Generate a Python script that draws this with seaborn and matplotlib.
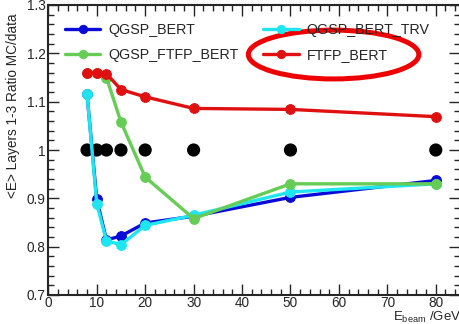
import matplotlib
matplotlib.use("Agg")
import matplotlib.pyplot as plt
from matplotlib.patches import Ellipse
from matplotlib.ticker import MultipleLocator
import seaborn as sns

# Beam energies (GeV) and MC/data ratios of <E> in layers 1-3
energies = [8, 10, 12, 15, 20, 30, 50, 80]
qgsp_bert = [1.115, 0.898, 0.814, 0.822, 0.849, 0.863, 0.902, 0.937]
qgsp_bert_trv = [1.115, 0.889, 0.812, 0.804, 0.844, 0.865, 0.913, 0.930]
qgsp_ftfp_bert = [1.160, 1.160, 1.150, 1.058, 0.944, 0.858, 0.930, 0.930]
ftfp_bert = [1.160, 1.160, 1.158, 1.125, 1.110, 1.086, 1.084, 1.069]
data_ref = [1.0, 1.0, 1.0, 1.0, 1.0, 1.0, 1.0, 1.0]

series_names = ["QGSP_BERT", "QGSP_BERT_TRV", "QGSP_FTFP_BERT", "FTFP_BERT"]
series_values = [qgsp_bert, qgsp_bert_trv, qgsp_ftfp_bert, ftfp_bert]
series_colors = ["#0a0ad8", "#1ee6f0", "#66cc55", "#e01010"]

sns.set_style("ticks")
plt.rcParams["font.family"] = ["Liberation Sans", "DejaVu Sans"]
plt.rcParams["mathtext.fontset"] = "custom"
plt.rcParams["mathtext.rm"] = "Liberation Sans"

fig = plt.figure(figsize=(4.6, 3.24), dpi=100)
ax = fig.add_axes([48.3 / 460, 1 - 295 / 324, (460 - 48.3) / 460, 290 / 324])

# data reference points
sns.scatterplot(x=energies, y=data_ref, color="black", s=90, edgecolor="none",
                zorder=2, ax=ax, legend=False)

for name, vals, col in zip(series_names, series_values, series_colors):
    sns.lineplot(x=energies, y=vals, color=col, marker="o", markersize=7,
                 markeredgecolor=col, linewidth=2.4, ax=ax, label=name, zorder=3)

h, l = ax.get_legend_handles_labels()
hmap = dict(zip(l, h))
order = ["QGSP_BERT", "QGSP_FTFP_BERT", "QGSP_BERT_TRV", "FTFP_BERT"]
ax.legend([hmap[k] for k in order], order, ncol=2, frameon=False,
          loc="upper left", bbox_to_anchor=(0.027, 0.958), borderaxespad=0,
          fontsize=10.3, handlelength=2.45, handletextpad=0.56,
          columnspacing=1.75, labelspacing=0.8, numpoints=1, markerscale=0.85)

# highlight ring around the FTFP_BERT entry
ax.add_patch(Ellipse((58.9, 1.1975), 35.2, 0.101, fill=False,
                     edgecolor="#ee0000", linewidth=3.6, zorder=5,
                     clip_on=False))

ax.set_xlim(0, 85)
ax.set_ylim(0.7, 1.3)
ax.xaxis.set_major_locator(MultipleLocator(10))
ax.xaxis.set_minor_locator(MultipleLocator(2))
ax.yaxis.set_minor_locator(MultipleLocator(0.02))
ax.set_yticks([0.7, 0.8, 0.9, 1.0, 1.1, 1.2, 1.3])
ax.set_yticklabels(["0.7", "0.8", "0.9", "1", "1.1", "1.2", "1.3"])
ax.tick_params(which="both", direction="in", top=True, right=True,
               labelsize=9.8, pad=2)
ax.tick_params(axis="x", which="both", pad=1)
ax.tick_params(which="major", length=8, width=1)
ax.tick_params(which="minor", length=4, width=1)
for sp in ax.spines.values():
    sp.set_linewidth(1.5)

ax.set_xlabel("")
ax.set_ylabel("")
fig.text(461 / 460, 1 - 320.5 / 324, r"E$_{\mathrm{beam}}$ /GeV", ha="right",
         va="baseline", fontsize=9.5)
fig.text(13 / 460, 1 - 13 / 324, "<E> Layers 1-3 Ratio MC/data", rotation=90,
         ha="center", va="top", fontsize=9.8)

fig.savefig("out.png", dpi=100)
